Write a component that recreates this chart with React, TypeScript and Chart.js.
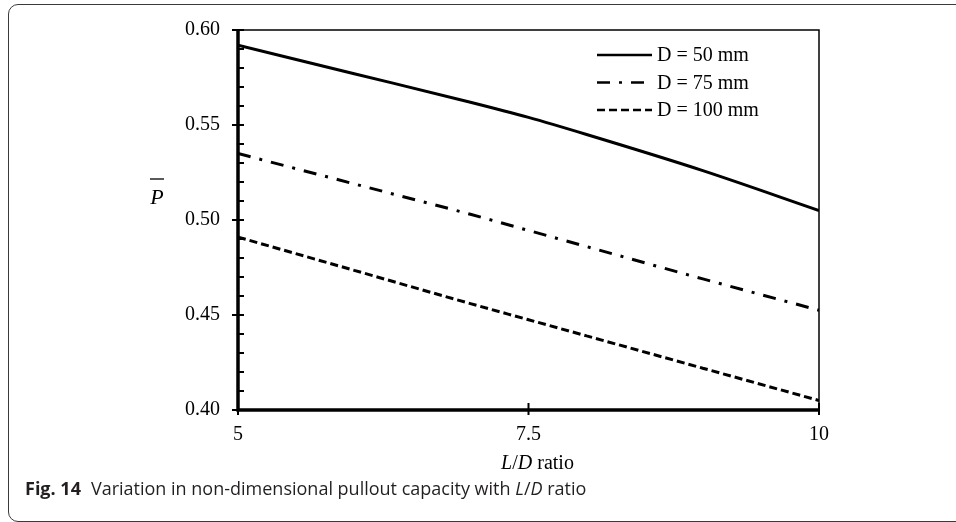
import React, { useEffect, useRef } from 'react';
import { Chart, registerables } from 'chart.js';

Chart.register(...registerables);

// L/D ratio sample positions along the curves
const ratioLD = [5, 6, 7, 7.5, 8, 9, 10];
// Non-dimensional pullout capacity for each pile diameter
const pD50 = [0.592, 0.577, 0.562, 0.554, 0.545, 0.526, 0.505];
const pD75 = [0.535, 0.519, 0.503, 0.4945, 0.486, 0.469, 0.4525];
const pD100 = [0.491, 0.4735, 0.456, 0.4475, 0.439, 0.422, 0.405];

const seriesLabels = ['D = 50 mm', 'D = 75 mm', 'D = 100 mm'];
const seriesDashes: number[][] = [[], [13, 9, 3, 9], [8, 4]];

const xTickStep = 2.5;
const yMajorStep = 0.05;
const yMinorStep = 0.01;

const xTitleParts: [string, boolean][] = [['L', true], ['/', false], ['D', true], [' ratio', false]];
const yTitleLetter = 'P';

const figureLabel = 'Fig. 14';
const captionLead = 'Variation in non-dimensional pullout capacity with ';
const captionTail = ' ratio';

const serif = "'Liberation Serif', 'Times New Roman', serif";

const isMajor = (v: number) => Math.round(v * 100) % Math.round(yMajorStep * 100) === 0;

const axesAndLegend = {
  id: 'axesAndLegend',
  afterDatasetsDraw(chart: any) {
    const { ctx, chartArea: a, scales } = chart;
    const xs = scales.x;
    const ys = scales.y;
    ctx.save();
    ctx.strokeStyle = '#000';
    ctx.fillStyle = '#000';

    // thin frame on the top and right of the plot
    ctx.lineWidth = 1.5;
    ctx.beginPath();
    ctx.moveTo(a.left, a.top);
    ctx.lineTo(a.right, a.top);
    ctx.lineTo(a.right, a.bottom);
    ctx.stroke();

    // y tick marks: majors cross the axis, minors point inward
    ctx.lineWidth = 2;
    ys.ticks.forEach((t: any) => {
      const py = ys.getPixelForValue(t.value);
      ctx.beginPath();
      ctx.moveTo(isMajor(t.value) ? a.left - 6 : a.left, py);
      ctx.lineTo(a.left + 6, py);
      ctx.stroke();
    });

    // x tick marks
    xs.ticks.forEach((t: any) => {
      const px = xs.getPixelForValue(t.value);
      ctx.beginPath();
      ctx.moveTo(px, a.bottom - 7);
      ctx.lineTo(px, a.bottom + 5);
      ctx.stroke();
    });

    // heavy left and bottom axes
    ctx.lineWidth = 3.5;
    ctx.beginPath();
    ctx.moveTo(a.left, a.top - 1);
    ctx.lineTo(a.left, a.bottom);
    ctx.lineTo(a.right + 1, a.bottom);
    ctx.stroke();

    // legend
    const sx0 = a.right - 222;
    const sx1 = a.right - 167;
    const tx = a.right - 162;
    const ly0 = a.top + 25;
    const row = 27.5;
    ctx.font = `20px ${serif}`;
    ctx.textAlign = 'left';
    ctx.textBaseline = 'middle';
    chart.data.datasets.forEach((ds: any, i: number) => {
      const ly = ly0 + i * row;
      ctx.lineWidth = 2.6;
      ctx.setLineDash(ds.borderDash || []);
      ctx.beginPath();
      ctx.moveTo(sx0, ly);
      ctx.lineTo(sx1, ly);
      ctx.stroke();
      ctx.setLineDash([]);
      ctx.fillText(ds.label, tx, ly + 1);
    });

    // x axis title with italic L and D
    const fontFor = (it: boolean) => `${it ? 'italic ' : ''}20px ${serif}`;
    let total = 0;
    xTitleParts.forEach(([s, it]) => {
      ctx.font = fontFor(it);
      total += ctx.measureText(s).width;
    });
    let cx = (a.left + a.right) / 2 + 9 - total / 2;
    const ty = a.bottom + 54;
    xTitleParts.forEach(([s, it]) => {
      ctx.font = fontFor(it);
      ctx.fillText(s, cx, ty);
      cx += ctx.measureText(s).width;
    });

    // y axis title: P with an overbar
    ctx.font = `italic 22px ${serif}`;
    ctx.textAlign = 'center';
    ctx.textBaseline = 'alphabetic';
    const px = a.left - 81;
    const pb = a.top + 174;
    ctx.fillText(yTitleLetter, px, pb);
    ctx.lineWidth = 1.3;
    ctx.beginPath();
    ctx.moveTo(px - 7, pb - 25);
    ctx.lineTo(px + 7, pb - 25);
    ctx.stroke();

    ctx.restore();
  },
};

export default function App() {
  const canvasRef = useRef<HTMLCanvasElement | null>(null);

  useEffect(() => {
    const canvas = canvasRef.current;
    if (!canvas) return;
    const mk = (vals: number[]) => ratioLD.map((x, i) => ({ x, y: vals[i] }));
    const chart = new Chart(canvas, {
      type: 'line',
      data: {
        datasets: [pD50, pD75, pD100].map((vals, i) => ({
          label: seriesLabels[i],
          data: mk(vals),
          borderColor: '#000',
          backgroundColor: '#000',
          borderWidth: 3,
          borderDash: seriesDashes[i],
          pointRadius: 0,
          cubicInterpolationMode: 'monotone' as const,
          fill: false,
        })),
      },
      options: {
        animation: false,
        responsive: false,
        devicePixelRatio: 1,
        layout: { padding: { top: 29, right: 137, left: 0, bottom: 0 } },
        plugins: { legend: { display: false }, tooltip: { enabled: false }, title: { display: false } },
        scales: {
          x: {
            type: 'linear',
            min: 5,
            max: 10,
            afterFit: (s: any) => {
              s.height = 112;
            },
            grid: { display: false, drawTicks: false },
            border: { display: false },
            ticks: {
              stepSize: xTickStep,
              autoSkip: false,
              maxRotation: 0,
              padding: 13,
              color: '#000',
              font: { family: serif, size: 20 },
            },
          },
          y: {
            type: 'linear',
            min: 0.4,
            max: 0.6,
            afterFit: (s: any) => {
              s.width = 238;
            },
            grid: { display: false, drawTicks: false },
            border: { display: false },
            ticks: {
              stepSize: yMinorStep,
              autoSkip: false,
              padding: 18,
              color: '#000',
              font: { family: serif, size: 20 },
              callback: (v: any) => (isMajor(Number(v)) ? Number(v).toFixed(2) : ''),
            },
          },
        },
      },
      plugins: [axesAndLegend],
    });
    return () => chart.destroy();
  }, []);

  return (
    <div
      style={{
        position: 'absolute',
        left: 0,
        top: 0,
        width: 956,
        height: 522,
        overflow: 'hidden',
        background: '#fff',
      }}
    >
      <div
        style={{
          position: 'absolute',
          left: 8,
          top: 4,
          width: 1000,
          height: 516,
          border: '1px solid #3a3a3a',
          borderRadius: 10,
        }}
      />
      <canvas ref={canvasRef} width={956} height={522} style={{ position: 'absolute', left: 0, top: 0 }} />
      <div
        style={{
          position: 'absolute',
          left: 25,
          top: 477,
          fontFamily: "'Open Sans', sans-serif",
          fontSize: 18,
          lineHeight: '22px',
          color: '#231f20',
          whiteSpace: 'nowrap',
        }}
      >
        <b>{figureLabel}</b>
        <span style={{ marginLeft: 10 }}>
          {captionLead}
          <i>L</i>/<i>D</i>
          {captionTail}
        </span>
      </div>
    </div>
  );
}
